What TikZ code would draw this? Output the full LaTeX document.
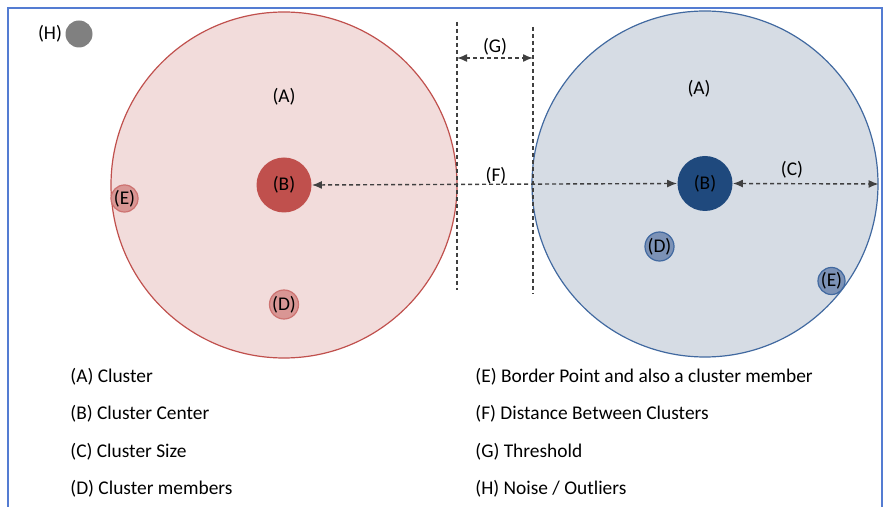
\documentclass[tikz,border=0pt]{standalone}
\usepackage{fontspec}
\setmainfont{Carlito}
\usetikzlibrary{arrows.meta}
\usepackage{xcolor}
\definecolor{redline}{RGB}{192,80,77}
\definecolor{redfill}{RGB}{242,220,219}
\definecolor{redpt}{RGB}{217,150,148}
\definecolor{blueline}{RGB}{65,105,160}
\definecolor{bluefill}{RGB}{214,220,228}
\definecolor{bluecenter}{RGB}{31,73,125}
\definecolor{bluept}{RGB}{124,146,182}
\definecolor{framecol}{RGB}{84,124,210}
\definecolor{dashcol}{RGB}{64,64,64}

\begin{document}
\begin{tikzpicture}[x=0.5pt, y=-0.5pt,
	every node/.style={font=\fontsize{9.7}{11.5}\selectfont},
	cluster/.style={circle, inner sep=0pt, minimum size=173pt, line width=0.6pt},
	center/.style={circle, inner sep=0pt, minimum size=27.5pt},
	member/.style={circle, inner sep=0pt, minimum size=13.5pt, line width=0.6pt},
	legend/.style={anchor=west, inner sep=0pt},
	guide/.style={draw=dashcol, line width=0.7pt, dash pattern=on 2pt off 1.5pt},
	measure/.style={guide, {Latex[length=5pt,width=4pt]}-{Latex[length=5pt,width=4pt]}}]
	\useasboundingbox (0,0) rectangle (883,507);
	\draw[framecol, line width=1pt] (8,507) -- (8,8) -- (882,8) -- (882,507);

	% the two clusters
	\node[cluster, draw=redline, fill=redfill] (redcl) at (284,185) {};
	\node[cluster, draw=blueline, fill=bluefill] (bluecl) at (705,184) {};
	\node (redA) at (284,97) {(A)};
	\node (blueA) at (699,89) {(A)};

	% threshold lines
	\coordinate (t1top) at (457,22);
	\coordinate (t1bot) at (457,290);
	\coordinate (t2top) at (533,27);
	\coordinate (t2bot) at (533,294);
	\coordinate (g1) at (457,58);
	\coordinate (g2) at (533,58);
	\draw[guide] (t1top) -- (t1bot);
	\draw[guide] (t2top) -- (t2bot);
	\draw[measure] (g1) -- (g2);
	\node (lblG) at (495,47) {(G)};

	% points
	\node[circle, inner sep=0pt, minimum size=13.5pt, fill=gray] (noise) at (79,34) {};
	\node (lblH) at (50,34) {(H)};
	\node[center, fill=redline] (redB) at (284,185) {(B)};
	\node[member, draw=redline!80, fill=redpt] (redE) at (124.5,198.5) {(E)};
	\node[member, draw=redline!80, fill=redpt] (redD) at (284,304.5) {(D)};
	\node[center, fill=bluecenter] (blueB) at (705,183.5) {(B)};
	\node[member, draw=blueline, fill=bluept] (blueD) at (659.5,246.5) {(D)};
	\node[member, draw=blueline, fill=bluept] (blueE) at (831.5,281) {(E)};

	% distances
	\draw[measure] (redB.east) -- (blueB.west);
	\node (lblF) at (496,176) {(F)};
	\draw[measure] (blueB.east) -- (bluecl.east);
	\node (lblC) at (792,170) {(C)};

	% legend
	\node[legend] (legA) at (70,377) {(A) Cluster};
	\node[legend] (legB) at (70,414) {(B) Cluster Center};
	\node[legend] (legC) at (70,451.5) {(C) Cluster Size};
	\node[legend] (legD) at (70,489) {(D) Cluster members};
	\node[legend] (legE) at (475,377) {(E) Border Point and also a cluster member};
	\node[legend] (legF) at (475,414) {(F) Distance Between Clusters};
	\node[legend] (legG) at (475,451.5) {(G) Threshold};
	\node[legend] (legH) at (475,489) {(H) Noise / Outliers};
\end{tikzpicture}
\end{document}
